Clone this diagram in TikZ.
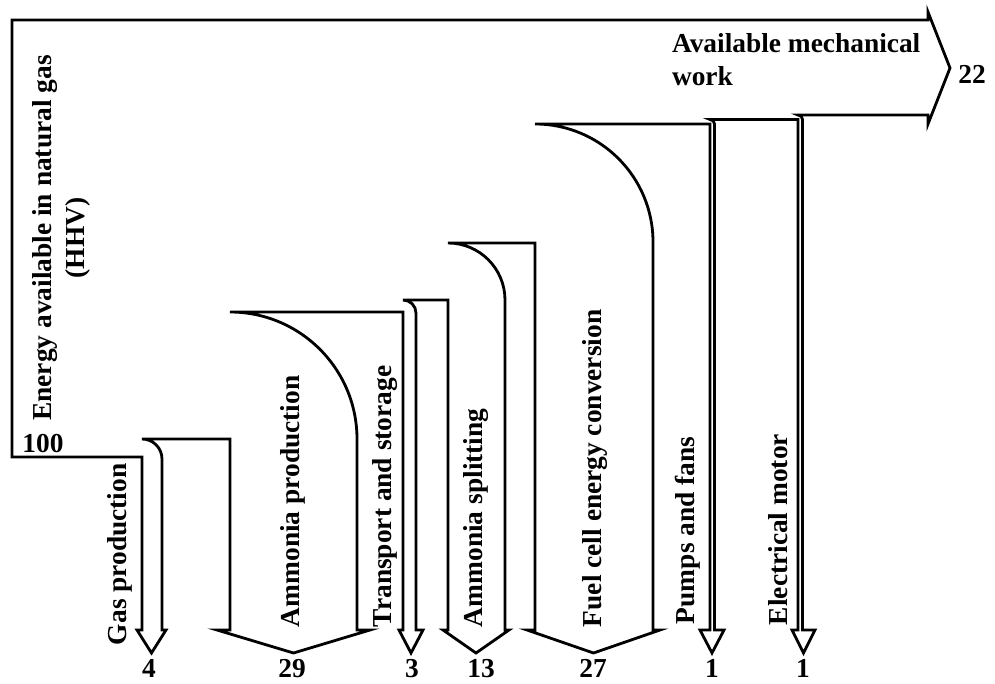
\documentclass[tikz,border=0pt]{standalone}
\usepackage{fontspec}
\setmainfont{Liberation Serif}
\begin{document}
\begin{tikzpicture}[x=1pt,y=-1pt,
  every node/.style={inner sep=0pt,outer sep=0pt,font=\fontsize{27.4}{33}\selectfont\bfseries},
  vlab/.style={rotate=90,anchor=west},
  numlab/.style={anchor=base},
  flow/.style={draw=black,line width=2.8pt,line join=miter,fill=white}]
\useasboundingbox (0,0) rectangle (995,683);
% Sankey outline
\path[flow] (12,20) -- (12,457) -- (142,457)
  % Gas production (4)
  -- (142,630) -- (137,630) -- (151.5,653) -- (166,630) -- (162,630) -- (162,459)
     .. controls (162,447.95) and (153.05,439) .. (142,439) -- (230,439)
  % Ammonia production (29)
  -- (230,630) -- (217,630) -- (293.5,653) -- (370,630) -- (357,630) -- (357,439)
     .. controls (357,368.86) and (300.14,312) .. (230,312) -- (403,312)
  % Transport and storage (3)
  -- (403,630) -- (399,630) -- (411,653) -- (423,630) -- (416,630) -- (416,313)
     .. controls (416,305.82) and (410.18,300) .. (403,300) -- (448,300)
  % Ammonia splitting (13)
  -- (448,630) -- (443,630) -- (476,653) -- (509,630) -- (505,630) -- (505,300)
     .. controls (505,268.52) and (479.48,243) .. (448,243) -- (535,243)
  % Fuel cell energy conversion (27)
  -- (535,630) -- (527,630) -- (593.5,653) -- (660,630) -- (653,630) -- (653,242)
     .. controls (653,176.83) and (600.17,124) .. (535,124) -- (710,124)
  % Pumps and fans (1)
  -- (710,630) -- (700,630) -- (712,653) -- (724,630) -- (714.5,630) -- (714.5,124)
     .. controls (714.5,121.5) and (712.5,119.5) .. (710,119.5) -- (798,119.5)
  % Electrical motor (1)
  -- (798,630) -- (792,630) -- (803.5,653) -- (815,630) -- (802.5,630) -- (802.5,119.5)
     .. controls (802.5,117) and (800.5,115) .. (798,115) -- (928,115)
  % Output arrow (22)
  -- (928,124) -- (950,68) -- (928,12) -- (928,20) -- cycle;
% labels
\node[rotate=90,align=center] (energy) at (61,238) {Energy available in natural gas\\(HHV)};
\node[numlab] (n100) at (43,452) {100};
\node[anchor=north west,align=left] (mech) at (672,33) {Available mechanical\\work};
\node[numlab] (n22) at (972,83) {22};
\node[vlab] (gas) at (120,645) {Gas production};
\node[vlab] (amm) at (293,627) {Ammonia production};
\node[vlab] (trans) at (385,627) {Transport and storage};
\node[vlab] (split) at (476,627) {Ammonia splitting};
\node[vlab] (fuel) at (595,627) {Fuel cell energy conversion};
\node[vlab] (pump) at (688,624) {Pumps and fans};
\node[vlab] (motor) at (778,625) {Electrical motor};
\node[numlab] (n4) at (149,677) {4};
\node[numlab] (n29) at (292,677) {29};
\node[numlab] (n3) at (412,677) {3};
\node[numlab] (n13) at (481,677) {13};
\node[numlab] (n27) at (593,677) {27};
\node[numlab] (n1a) at (712,677) {1};
\node[numlab] (n1b) at (803,677) {1};
\end{tikzpicture}
\end{document}
